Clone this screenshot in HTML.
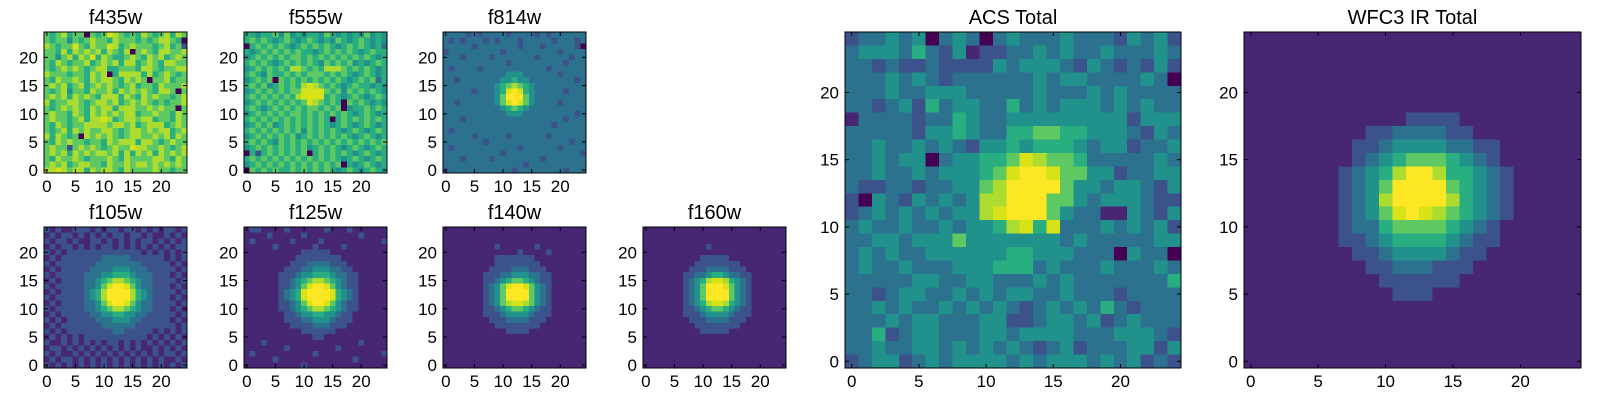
<!DOCTYPE html>
<html><head><meta charset="utf-8"><style>
html,body{margin:0;padding:0;background:#fff;width:1600px;height:400px;overflow:hidden}
svg{display:block}
text{font-family:"Liberation Sans","DejaVu Sans",sans-serif;fill:#000}
</style></head><body>
<svg id="fig" width="1600" height="400" xmlns="http://www.w3.org/2000/svg"></svg>
<script>
// data rows listed from top (y=24) to bottom (y=0); digit = intensity level 0..9
const tickValues = [0,5,10,15,20];
const titles = ["f435w","f555w","f814w","f105w","f125w","f140w","f160w","ACS Total","WFC3 IR Total"];
const f435w = [
"6567566065687656576567576","6566465676657666565677650","7656686576687567666567562","6657576767576570676577667","6646757685765567657675676",
"6576566756767577567657766","6567676567755666577656677","7666566576705777757567656","6576676576776576760667566","6767567567676567566576667",
"6567466576675767676577606","6767576765777576576766567","7566776567767567676565667","6567676576775777667676606","6766576576767677566766576",
"6766567577875677677566576","6576566777767767567775676","6567576766776567767677567","7576560767676567766767576","6576766566576777577656766",
"6766267676567668776676567","6767576767767575767576767","6576676566676576666776576","6767567766576676776767676","7787677576776576666766566"];
const f555w = [
"5545564645455465454546454","5656545654565454654565454","0565656545656565456565453","5456565656554565656545655","4565656566565656565656545",
"5656545656565465656454565","4565656577656577765656545","5654655656566656565456545","4565606565656565654565635","5656456565787656545655454",
"4565656566888865646565654","5656565657888856545654565","4565656565687656506565454","5654565656566565604556565","4565656566565656565456545",
"5656565656565650565656565","4565645656565654565456545","5656565656465656545654565","4565656564565656565456545","5656546565656565656565656",
"4565656565645656545654565","0525656565605656565456545","5656565656565656545654565","4565656565656565605456545","0656565565656565456545654"];
const f814w = [
"3333232333323333232333333","3232333232333233333233323","3333323333333233323333320","2333333333233333333323333","3332333323333333233333233",
"3333333333323333333332333","3233332333333333332333333","3333333333344433333323333","3323333333445443333333323","3333333334567654333333333",
"3333323334589854333332333","3333333334699964333333333","3323333334689864333323333","3333333333456543333333333","3333333333344433333333323",
"3332333333333333333332333","3333333333333333333233333","3233333333333333333333333","3333323333323333332333333","3333333233333333333333233",
"3233333333333233333323333","3333333333233333333333332","3332333323333333323333333","3333333333333323333333333","2333333333332333333332333"];
const f105w = [
"2121122212122122121212212","1212212121212212212112121","2122121122121212122121212","1212212121221212121212122","2121222222222222212121212",
"1212222222333332222221212","2122222223333333322222121","1212222233334443332222212","2122222333445554333222121","1212222334567765433222212",
"2122222334689986433222121","1212222345799997543222212","2122222345799997543222121","1212222334689986433222212","2122222334567765433222121",
"1212222233445544332222212","2121222223334443322222121","1212222222333333222222212","2121222222223322222121212","1212121222222222221212121",
"2112121212122121212121212","1221212121212121211212121","2121121212121212121212212","1212212121212121212121121","2121212121212121212121212"];
const f125w = [
"1221111211111121112111111","1111211111211111111121111","1211111121111211111111112","1111121111112111121111111","1111111111222221111111111",
"1111111112222222211111111","1111111122233332221111111","1111111222334443322111111","1111112223445554332211111","1111112234567765432211111",
"1111112234689986432211111","1111112345899998543211111","1111112345899998543211111","1111112234689986432211111","1111112234567765432211111",
"1111111223445544322111111","1111111222334443222111111","1111111122223332221111111","1111111111222222111111111","1111111111112211111111111",
"1112111111111111111121111","1111111211111111211111111","1211111111112111111111112","1111121111111111111211111","1111111111211111111111111"];
const f140w = [
"1111111111111111111111111","1111111111111111111111111","1111111111111111111111111","1111111112111111211111111","1111111111111211112111111",
"1111111112222222111111111","1111111112222222211111111","1111111122223332221111111","1111111222334443322111111","1111111223456654322111111",
"1111111234689986432111111","1111111234699996432111111","1111111234699996432111111","1111111234678876432111111","1111111223456654322111111",
"1111111222344443222111111","1111111122233332221111111","1111111112222222211111111","1111111111122221111111111","1111111111111111111111111",
"1111111111111111111111111","1111111111111111111111111","1111111111111111111111111","1111111111111111111111111","1111111111111111111111111"];
const f160w = [
"1111111111111111111111111","1111111111111111111111111","1111111111111111111111111","1111111111121111111111111","1111111111111111111111111",
"1111111111222221111111111","1111111112222222211111111","1111111122233332221111111","1111111223345543322111111","1111111234578875432111111",
"1111111234699986432111111","1111111234699996432111111","1111111234699996432111111","1111111234578875432111111","1111111223456654322111111",
"1111111222344443222111111","1111111122233332221111111","1111111112222222211111111","1111111111222221111111111","1111111111111111111111111",
"1111111111111111111111111","1111111111111111111111111","1111111111111111111111111","1111111111111111111111111","1111111111111111111111111"];
const acsTotal = [
"2334340343034333433324342","3444353241223343433433343","3323223222243444324323242","3334343233333343443333430","3334334443333343334343333",
"3323425344335343444343433","1333323354334444444442444","3333324454335566554443243","3343343432445455543442334","3343440344556876653333343",
"3343343444568998664423344","3223323344679999644344324","2043243434779996643444322","2343434344789996433114324","3433433434457858333434342",
"3344344464444444343333344","3434334444445544433304330","3433433344455534333433343","3333344334433343433333335","3323443343434433433323333",
"3343433434343234343532333","3334344333442234434234333","3352344333443444433344432","3343344343434323423334424","2344234344443434443434232"];
const wfc3Total = [
"1111111111111111111111111","1111111111111111111111111","1111111111111111111111111","1111111111111111111111111","1111111111111111111111111",
"1111111111111111111111111","1111111111112222111111111","1111111112233332211111111","1111111122344443322111111","1111111123456665432111111",
"1111111234579975543211111","1111111234699996543211111","1111111234799997543211111","1111111234689876543211111","1111111233566665432111111",
"1111111223455554322111111","1111111122344443221111111","1111111112233322211111111","1111111111222222111111111","1111111111122211111111111",
"1111111111111111111111111","1111111111111111111111111","1111111111111111111111111","1111111111111111111111111","1111111111111111111111111"];

const viridis = ["#440154","#472674","#3b528b","#2c728e","#21918c","#28ae80","#5ec962","#addc30","#d8e219","#fde725"];
const panels = [
 {data:f435w,x:44,y:32,w:143,h:141,name:"f435w"},
 {data:f555w,x:244,y:32,w:143,h:141,name:"f555w"},
 {data:f814w,x:443,y:32,w:143,h:141,name:"f814w"},
 {data:f105w,x:44,y:227,w:143,h:141,name:"f105w"},
 {data:f125w,x:244,y:227,w:143,h:141,name:"f125w"},
 {data:f140w,x:443,y:227,w:143,h:141,name:"f140w"},
 {data:f160w,x:643,y:227,w:143,h:141,name:"f160w"},
 {data:acsTotal,x:845,y:32,w:336,h:336,name:"acs-total"},
 {data:wfc3Total,x:1244,y:32,w:337,h:336,name:"wfc3-ir-total"}
];
const titleMap = {"f435w":0,"f555w":1,"f814w":2,"f105w":3,"f125w":4,"f140w":5,"f160w":6,"acs-total":7,"wfc3-ir-total":8};
const FS=17, TFS=20;
const NS="http://www.w3.org/2000/svg";
const svg=document.getElementById('fig');
function mk(tag,attrs,parent){const e=document.createElementNS(NS,tag);for(const k in attrs)e.setAttribute(k,attrs[k]);(parent||svg).appendChild(e);return e;}
panels.forEach(p=>{
  const g=mk('g',{});
  
  
  const n=25, cw=p.w/n, ch=p.h/n;
  const xs=v=>p.x+(v+0.5)*cw;
  const ys=v=>p.y+p.h-(v+0.5)*ch;
  const cells=mk('g',{'shape-rendering':'crispEdges'},g);
  
  
  p.data.forEach((row,i)=>{
    const yv=n-1-i;
    for(let j=0;j<n;j++){
      const lv=parseInt(row.charAt(j)||'1',10);
      const r=mk('rect',{x:(xs(j)-cw/2).toFixed(2),y:(ys(yv)-ch/2).toFixed(2),width:(cw+0.6).toFixed(2),height:(ch+0.6).toFixed(2),fill:viridis[isNaN(lv)?1:lv]},cells);
      
      
    }
  });
  const fr=mk('rect',{x:p.x,y:p.y,width:p.w,height:p.h,fill:'none',stroke:'#000','stroke-width':1},g);
  
  
  tickValues.forEach(t=>{
    const tx=xs(t), ty=ys(t);
    mk('line',{x1:tx,y1:p.y+p.h,x2:tx,y2:p.y+p.h-4,stroke:'#000'},g);
    mk('line',{x1:tx,y1:p.y,x2:tx,y2:p.y+4,stroke:'#000'},g);
    mk('line',{x1:p.x,y1:ty,x2:p.x+4,y2:ty,stroke:'#000'},g);
    mk('line',{x1:p.x+p.w,y1:ty,x2:p.x+p.w-4,y2:ty,stroke:'#000'},g);
    const xl=mk('text',{x:tx,y:p.y+p.h+19,'font-size':FS,'text-anchor':'middle'},g);
    xl.textContent=t;
    
    
    const yl=mk('text',{x:p.x-6,y:ty+6,'font-size':FS,'text-anchor':'end'},g);
    yl.textContent=t;
    
    
  });
  const tt=mk('text',{x:p.x+p.w/2,y:p.y-8,'font-size':TFS,'text-anchor':'middle'},g);
  tt.textContent=titles[titleMap[p.name]];
  
  
});
</script>
</body></html>
